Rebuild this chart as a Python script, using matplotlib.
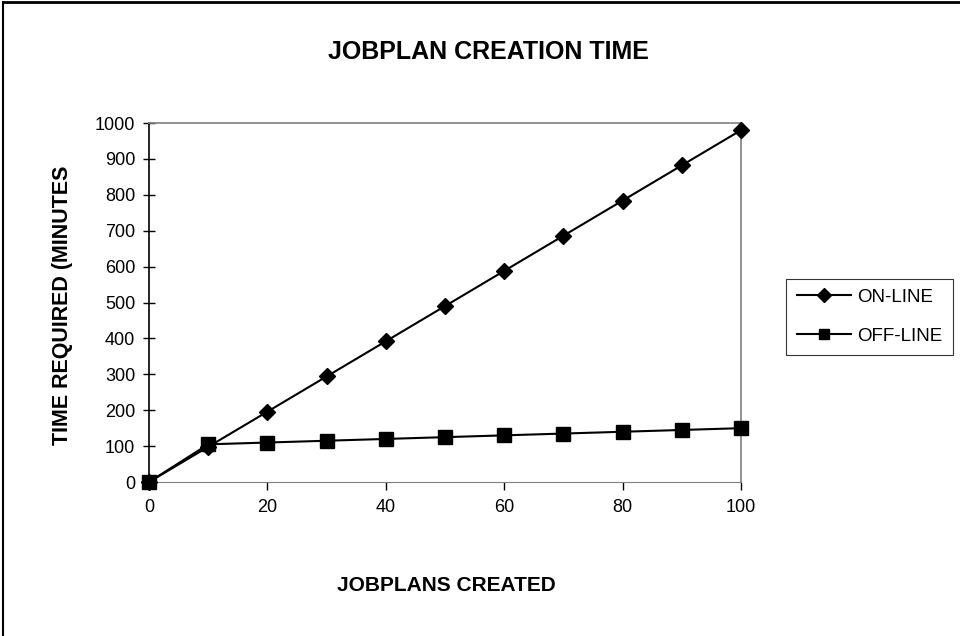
import matplotlib
matplotlib.use("Agg")
import matplotlib.pyplot as plt
from matplotlib.lines import Line2D

plans = [0, 10, 20, 30, 40, 50, 60, 70, 80, 90, 100]
online = [0, 98, 196, 294, 392, 490, 588, 686, 784, 882, 980]
offline = [0, 105, 110, 115, 120, 125, 130, 135, 140, 145, 150]
xticks = [0, 20, 40, 60, 80, 100]
yticks = [0, 100, 200, 300, 400, 500, 600, 700, 800, 900, 1000]

plt.rcParams['font.family'] = ['Liberation Sans', 'DejaVu Sans']

fig = plt.figure(figsize=(9.6, 6.36), dpi=100)
ax = fig.add_axes([0.1552, 0.2421, 0.6167, 0.5645])

ax.plot(plans, online, color='black', lw=1.5, marker='D', ms=8, label='ON-LINE', clip_on=False, zorder=3)
ax.plot(plans, offline, color='black', lw=1.5, marker='s', ms=10, label='OFF-LINE', clip_on=False, zorder=3)

ax.set_xlim(0, 100)
ax.set_ylim(0, 1000)
ax.set_xticks(xticks)
ax.set_yticks(yticks)
ax.tick_params(axis='x', direction='out', length=6, width=1, labelsize=13, pad=6)
ax.tick_params(axis='y', direction='inout', length=8, width=1, labelsize=13, pad=6)
for s in ['top', 'right']:
    ax.spines[s].set_color('#808080')
    ax.spines[s].set_linewidth(1.2)
ax.spines['bottom'].set_color('#808080')
ax.spines['left'].set_color('black')
ax.spines['left'].set_linewidth(1.2)

fig.text(0.509, 0.918, 'JOBPLAN CREATION TIME', ha='center', va='center', fontsize=18, fontweight='bold')
fig.text(0.465, 0.08, 'JOBPLANS CREATED', ha='center', va='center', fontsize=15, fontweight='bold')
fig.text(0.065, 0.52, 'TIME REQUIRED (MINUTES', ha='center', va='center', rotation=90, fontsize=15.5, fontweight='bold')

leg = fig.legend(loc='center left', bbox_to_anchor=(0.819, 0.502), fontsize=13.5, frameon=True,
                 fancybox=False, edgecolor='black', handlelength=2.9, borderpad=0.55, labelspacing=1.15,
                 handletextpad=0.35, borderaxespad=0)
leg.get_frame().set_linewidth(0.8)
for h in leg.legend_handles:
    h.set_markersize(7.5)

fig.add_artist(Line2D([0.003, 1.0], [0.997, 0.997], transform=fig.transFigure, color='black', lw=2))
fig.add_artist(Line2D([0.003, 0.003], [0.0, 0.997], transform=fig.transFigure, color='black', lw=1.5))

fig.savefig('out.png', dpi=100)
